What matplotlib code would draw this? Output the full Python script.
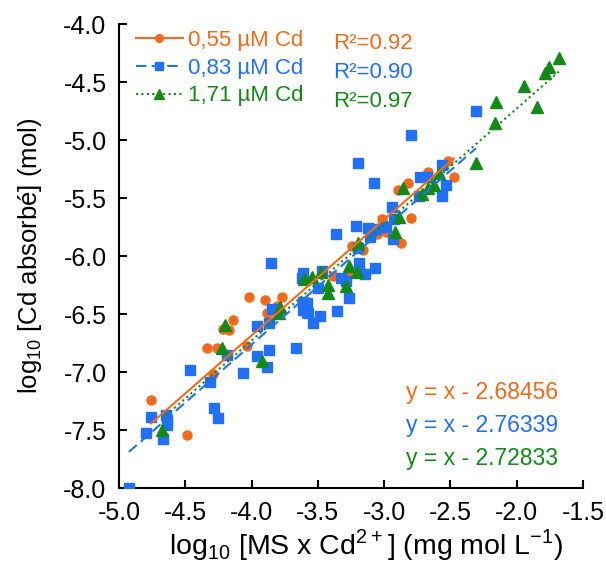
import matplotlib
matplotlib.use("Agg")
import matplotlib.pyplot as plt
from matplotlib.lines import Line2D
import numpy as np

plt.rcParams['font.family'] = ['Liberation Sans', 'DejaVu Sans']
plt.rcParams['mathtext.fontset'] = 'custom'
plt.rcParams['mathtext.rm'] = 'Liberation Sans'

# --- data ---
x_055 = [-4.759, -4.487, -4.291, -4.336, -4.261, -4.035, -4.216, -4.170, -4.140,
         -4.020, -3.899, -3.884, -3.808, -3.771, -3.620, -3.017, -2.798, -3.054,
         -2.986, -3.243, -3.160, -2.873, -3.265, -3.386, -2.519, -2.474, -2.670,
         -2.820, -2.896]
y_055 = [-7.241, -7.543, -7.017, -6.793, -6.793, -6.776, -6.629, -6.638, -6.552,
         -6.353, -6.379, -6.491, -6.431, -6.353, -6.405, -5.681, -5.672, -5.810,
         -5.793, -5.914, -5.948, -5.888, -6.129, -6.172, -5.181, -5.319, -5.276,
         -5.371, -5.431]

x_083 = [-4.925, -4.796, -4.759, -4.668, -4.646, -4.638, -4.638, -4.465, -4.314,
         -4.284, -4.253, -4.065, -3.884, -4.186, -3.959, -3.869, -3.665, -3.959,
         -3.869, -3.846, -3.854, -3.612, -3.620, -3.612, -3.582, -3.610, -2.941,
         -2.926, -3.213, -3.364, -3.122, -3.062, -3.107, -2.986, -2.934, -3.198,
         -3.190, -3.069, -3.145, -3.326, -3.288, -3.469, -3.499, -3.265, -3.580,
         -3.575, -3.484, -3.537, -3.356, -2.308, -2.798, -3.198, -3.077, -2.564,
         -2.730, -2.677, -2.534, -2.564, -2.738]
y_083 = [-8.000, -7.526, -7.388, -7.578, -7.371, -7.414, -7.457, -6.983, -7.086,
         -7.310, -7.397, -7.009, -6.957, -6.853, -6.862, -6.810, -6.793, -6.603,
         -6.578, -6.457, -6.060, -6.147, -6.190, -6.397, -6.483, -6.466, -5.578,
         -5.681, -5.741, -5.810, -5.759, -5.767, -5.836, -5.750, -5.853, -5.931,
         -6.060, -6.103, -6.155, -6.190, -6.216, -6.129, -6.276, -6.362, -6.405,
         -6.491, -6.517, -6.578, -6.474, -4.750, -4.957, -5.198, -5.371, -5.216,
         -5.319, -5.319, -5.388, -5.483, -5.483]

x_171 = [-1.682, -1.757, -1.787, -1.946, -1.848, -2.157, -2.165, -2.308, -2.587,
         -2.625, -2.670, -2.715, -2.858, -2.888, -2.919, -3.198, -3.265, -3.205,
         -3.477, -3.545, -3.605, -3.424, -3.288, -3.424, -3.786, -3.793, -4.201,
         -4.223, -3.922, -4.676]
y_171 = [-4.293, -4.371, -4.422, -4.534, -4.716, -4.672, -4.853, -5.198, -5.284,
         -5.388, -5.414, -5.466, -5.414, -5.664, -5.793, -5.888, -6.086, -6.138,
         -6.138, -6.181, -6.198, -6.250, -6.259, -6.319, -6.440, -6.491, -6.595,
         -6.793, -6.905, -7.500]

labels = ['0,55 µM Cd', '0,83 µM Cd', '1,71 µM Cd']
r2_labels = ['R²=0.92', 'R²=0.90', 'R²=0.97']
intercepts = [-2.68456, -2.76339, -2.72833]
eq_labels = ['y = x - 2.68456', 'y = x - 2.76339', 'y = x - 2.72833']

colors = ['#F26A1B', '#2170F5', '#138A18']
markers = ['o', 's', '^']
msizes = [6.5, 7, 8]
lstyles = ['-', (0, (5, 2.5)), (0, (1, 1.6))]

xs = [x_055, x_083, x_171]
ys = [y_055, y_083, y_171]

fig = plt.figure(figsize=(6.06, 5.73), dpi=100)
ax = fig.add_axes([0.1964, 0.1483, 0.7657, 0.8098])

def ax_frac(px, py):
    return ((px - 119) / 464.0, (488 - py) / 464.0)

handles = []
for i in range(3):
    x = np.array(xs[i]); y = np.array(ys[i])
    ax.plot(x, y, linestyle='none', marker=markers[i], ms=msizes[i],
            color=colors[i], mec=colors[i], zorder=3 + i)
    xl = np.array([x.min(), x.max()])
    ax.plot(xl, xl + intercepts[i], color=colors[i], linestyle=lstyles[i],
            lw=1.5, zorder=7)
    handles.append(Line2D([], [], color=colors[i], linestyle=lstyles[i], lw=1.5,
                          marker=markers[i], ms=msizes[i] - 1))

lx, ly = ax_frac(136, 30)
leg = ax.legend(handles, labels, loc='upper left', bbox_to_anchor=(lx, ly),
                frameon=False, fontsize=16, handlelength=2.1, handletextpad=0.25,
                labelspacing=0.3, borderaxespad=0.0, borderpad=0.0)
for t, c in zip(leg.get_texts(), colors):
    t.set_color(c)

r2_y = [43, 72, 101]
for i in range(3):
    fx, fy = ax_frac(333, r2_y[i])
    ax.text(fx, fy, r2_labels[i], color=colors[i], fontsize=16,
            transform=ax.transAxes, va='center', ha='left')
eq_y = [392, 425, 458]
for i in range(3):
    fx, fy = ax_frac(406, eq_y[i])
    ax.text(fx, fy, eq_labels[i], color=colors[i], fontsize=16.5,
            transform=ax.transAxes, va='center', ha='left')

ax.set_xlim(-5.0, -1.5)
ax.set_ylim(-8.0, -4.0)
ax.set_xticks(np.arange(-5.0, -1.49, 0.5))
ax.set_yticks(np.arange(-8.0, -3.99, 0.5))
ax.xaxis.set_major_formatter(matplotlib.ticker.FormatStrFormatter('%.1f'))
ax.yaxis.set_major_formatter(matplotlib.ticker.FormatStrFormatter('%.1f'))
ax.tick_params(direction='in', length=6, width=1.5, labelsize=18, pad=9)
for s in ['top', 'right']:
    ax.spines[s].set_visible(False)
for s in ['left', 'bottom']:
    ax.spines[s].set_linewidth(1.5)

ax.set_xlabel(r'log$_{\mathregular{10}}$ [MS x Cd$^{\mathregular{2+}}$] (mg mol L$^{\mathregular{-1}}$)',
              fontsize=20.5)
ax.set_ylabel(r'log$_{\mathregular{10}}$ [Cd absorbé] (mol)', fontsize=18.5)
ax.xaxis.set_label_coords(*ax_frac(366, 527))
ax.yaxis.set_label_coords(*ax_frac(44, 256))

fig.savefig('out.png', dpi=100)
